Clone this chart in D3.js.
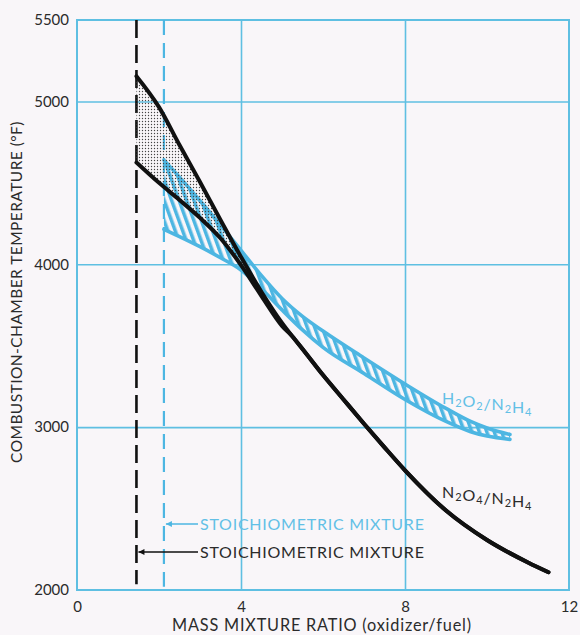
<!DOCTYPE html>
<html><head><meta charset="utf-8">
<script src="https://cdn.jsdelivr.net/npm/d3@7"></script>
<style>
body{margin:0;background:#f9f6f9;}
svg{display:block;font-family:Lato,"DejaVu Sans",sans-serif;}
</style>
</head><body>
<svg id="c" width="580" height="635"></svg>
<script>
// ---- data ----
const xTicks = [0, 4, 8, 12];
const yTicks = [2000, 3000, 4000, 5000, 5500];
const xGrid = [4, 8];
const yGrid = [3000, 4000, 5000];
const stoichN2O4 = 1.45;
const stoichH2O2 = 2.12;

// N2O4/N2H4 band (upper / lower bound) then merged tail
const mrN2O4 = [1.45, 2, 2.5, 3, 3.5, 4, 4.5, 5, 5.25];
const tN2O4High = [5155, 4965, 4732, 4505, 4272, 4045, 3830, 3640, 3558];
const tN2O4Low  = [4625, 4500, 4395, 4285, 4160, 3995, 3805, 3622, 3558];
const mrN2O4Tail = [5.25, 5.5, 6, 6.5, 7, 7.5, 8, 9, 10, 11, 11.5];
const tN2O4Tail  = [3558, 3480, 3320, 3170, 3021, 2876, 2735, 2488, 2307, 2169, 2109];

// H2O2/N2H4 band
const mrH2O2 = [2.12, 2.5, 3, 3.5, 4, 4.5, 5, 5.5, 6, 7, 8, 9, 9.6, 10, 10.56];
const tH2O2High = [4640, 4535, 4390, 4240, 4085, 3930, 3790, 3680, 3590, 3425, 3265, 3115, 3035, 2995, 2955];
const tH2O2Low  = [4215, 4170, 4108, 4040, 3965, 3850, 3720, 3597, 3490, 3330, 3170, 3035, 2972, 2945, 2925];

const xTitle = "MASS MIXTURE RATIO (oxidizer/fuel)";
const yTitle = "COMBUSTION-CHAMBER TEMPERATURE (°F)";
const stoichLabel = "STOICHIOMETRIC MIXTURE";

// ---- layout ----
const W = 580, H = 635;
const m = {left: 77, right: 11, top: 20, bottom: 45};
const cyan = "#4db6e2", grid = "#5fbfe2", ink = "#2b2b2b", cyanText = "#62c0e6";

const svg = d3.select("#c");
const x = d3.scaleLinear().domain([0, 12]).range([m.left, W - m.right]);
const y = d3.scaleLinear().domain([2000, 5500]).range([H - m.bottom, m.top]);

const defs = svg.append("defs");
const dots = defs.append("pattern").attr("id", "dots").attr("width", 3).attr("height", 3)
  .attr("patternUnits", "userSpaceOnUse");
dots.append("circle").attr("cx", 1.5).attr("cy", 1.5).attr("r", 0.7).attr("fill", "#444");
const hatch = defs.append("pattern").attr("id", "hatch").attr("width", 7).attr("height", 7)
  .attr("patternUnits", "userSpaceOnUse").attr("patternTransform", "rotate(-20)");
hatch.append("rect").attr("width", 3.5).attr("height", 7).attr("fill", cyan);
["ab", "ac"].forEach((id, i) => {
  defs.append("marker").attr("id", id).attr("viewBox", "0 0 10 10").attr("refX", 10).attr("refY", 5)
    .attr("markerWidth", 9).attr("markerHeight", 6).attr("markerUnits", "userSpaceOnUse")
    .attr("orient", "auto-start-reverse")
    .append("path").attr("d", "M0,0L10,5L0,10Z").attr("fill", i ? cyan : "#111");
});

// grid
svg.append("g").attr("transform", `translate(0,${y(2000)})`)
  .call(d3.axisBottom(x).tickValues(xGrid).tickSize(-(y(2000) - y(5500))).tickFormat(""))
  .call(g => g.select(".domain").remove())
  .call(g => g.selectAll("line").attr("stroke", grid).attr("stroke-width", 1.6));
svg.append("g").attr("transform", `translate(${x(0)},0)`)
  .call(d3.axisLeft(y).tickValues(yGrid).tickSize(-(x(12) - x(0))).tickFormat(""))
  .call(g => g.select(".domain").remove())
  .call(g => g.selectAll("line").attr("stroke", grid).attr("stroke-width", 1.6));
svg.append("rect").attr("x", x(0)).attr("y", y(5500)).attr("width", x(12) - x(0))
  .attr("height", y(2000) - y(5500)).attr("fill", "none").attr("stroke", grid).attr("stroke-width", 2);

// tick labels
svg.append("g").attr("transform", `translate(${x(0)},0)`)
  .call(d3.axisLeft(y).tickValues(yTicks).tickSize(0).tickPadding(8).tickFormat(d3.format("d")))
  .call(g => g.select(".domain").remove())
  .call(g => g.selectAll("text").attr("fill", ink).attr("font-size", 15).attr("font-family", "Lato"));
svg.append("g").attr("transform", `translate(0,${y(2000)})`)
  .call(d3.axisBottom(x).tickValues(xTicks).tickSize(0).tickPadding(11).tickFormat(d3.format("d")))
  .call(g => g.select(".domain").remove())
  .call(g => g.selectAll("text").attr("fill", ink).attr("font-size", 15).attr("font-family", "Lato"));

// titles
svg.append("text").attr("x", 322).attr("y", 631).attr("text-anchor", "middle")
  .attr("font-size", 16.3).attr("fill", ink).attr("letter-spacing", 0.8).text(xTitle);
svg.append("text").attr("transform", "translate(22,292) rotate(-90)").attr("text-anchor", "middle")
  .attr("font-size", 15.5).attr("fill", ink).attr("letter-spacing", 0.45).text(yTitle);

// stoichiometric lines
svg.append("line").attr("x1", x(stoichN2O4)).attr("x2", x(stoichN2O4))
  .attr("y1", y(5500)).attr("y2", y(2035)).attr("stroke", "#111").attr("stroke-width", 2.6)
  .attr("stroke-dasharray", "18,7");
svg.append("line").attr("x1", x(stoichH2O2)).attr("x2", x(stoichH2O2))
  .attr("y1", y(5500)).attr("y2", y(2020)).attr("stroke", cyan).attr("stroke-width", 2.2)
  .attr("stroke-dasharray", "15,8");

const pts = (xs, ys) => xs.map((d, i) => [d, ys[i]]);
const line = d3.line().x(d => x(d[0])).y(d => y(d[1])).curve(d3.curveMonotoneX);
const area = d3.area().x(d => x(d[0])).y0(d => y(d[1])).y1(d => y(d[2])).curve(d3.curveMonotoneX);

// H2O2 band
const hBand = mrH2O2.map((d, i) => [d, tH2O2Low[i], tH2O2High[i]]);
svg.append("path").datum(hBand).attr("d", area).attr("fill", "url(#hatch)");
svg.append("path").datum(pts(mrH2O2, tH2O2High)).attr("d", line).attr("fill", "none")
  .attr("stroke", cyan).attr("stroke-width", 3.6).attr("stroke-linecap", "round");
svg.append("path").datum(pts(mrH2O2, tH2O2Low)).attr("d", line).attr("fill", "none")
  .attr("stroke", cyan).attr("stroke-width", 3.6).attr("stroke-linecap", "round");

// N2O4 band
const nBand = mrN2O4.map((d, i) => [d, tN2O4Low[i], tN2O4High[i]]);
svg.append("path").datum(nBand).attr("d", area).attr("fill", "url(#dots)");
const tailPts = pts(mrN2O4Tail, tN2O4Tail).slice(1);
svg.append("path").datum(pts(mrN2O4, tN2O4High).concat(tailPts)).attr("d", line).attr("fill", "none")
  .attr("stroke", "#111").attr("stroke-width", 4).attr("stroke-linecap", "round").attr("stroke-linejoin", "round");
svg.append("path").datum(pts(mrN2O4, tN2O4Low).concat(tailPts)).attr("d", line).attr("fill", "none")
  .attr("stroke", "#111").attr("stroke-width", 4).attr("stroke-linecap", "round").attr("stroke-linejoin", "round");

// labels with subscripts
function formula(xp, yp, parts, color) {
  const t = svg.append("text").attr("x", xp).attr("y", yp).attr("font-size", 16)
    .attr("letter-spacing", 0.9).attr("fill", color);
  parts.forEach(p => {
    if (/^\d$/.test(p)) {
      t.append("tspan").attr("font-size", 11).attr("dy", 3).text(p);
      t.append("tspan").attr("dy", -3).text("");
    } else t.append("tspan").text(p);
  });
}
formula(442, 404, ["H", "2", "O", "2", "/N", "2", "H", "4"], cyanText);
formula(442, 498, ["N", "2", "O", "4", "/N", "2", "H", "4"], ink);

// stoichiometric annotations
svg.append("line").attr("x1", 198).attr("x2", x(stoichH2O2) + 2).attr("y1", 524).attr("y2", 524)
  .attr("stroke", cyan).attr("stroke-width", 1.3).attr("marker-end", "url(#ac)");
svg.append("text").attr("x", 200).attr("y", 529.5).attr("font-size", 16).attr("fill", cyanText)
  .attr("letter-spacing", 0.75).text(stoichLabel);
svg.append("line").attr("x1", 198).attr("x2", x(stoichN2O4) + 2).attr("y1", 552).attr("y2", 552)
  .attr("stroke", "#111").attr("stroke-width", 1.3).attr("marker-end", "url(#ab)");
svg.append("text").attr("x", 200).attr("y", 558).attr("font-size", 16).attr("fill", ink)
  .attr("letter-spacing", 0.75).text(stoichLabel);
</script>
</body></html>
